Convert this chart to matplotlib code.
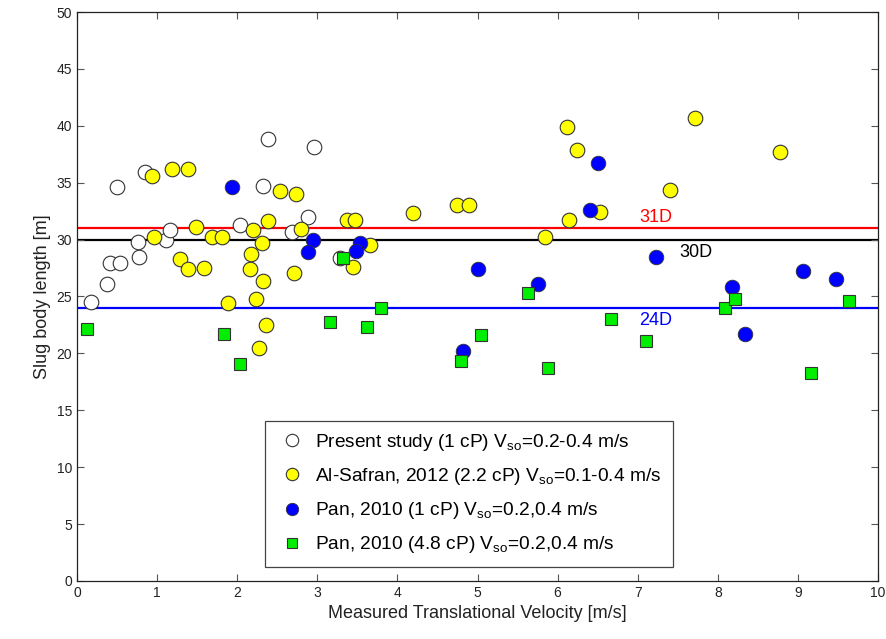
import matplotlib.pyplot as plt

plt.rcParams['font.family'] = ['Liberation Sans', 'DejaVu Sans']
plt.rcParams['mathtext.fontset'] = 'custom'
plt.rcParams['mathtext.rm'] = 'Liberation Sans'

# -------------------------------
# Datos
# -------------------------------
present_x = [0.17, 0.38, 0.41, 0.54, 0.50, 0.77, 0.76, 0.85, 1.11, 1.16,
             2.39, 2.32, 2.04, 2.89, 2.96, 2.69, 3.28]
present_y = [24.5, 26.1, 27.9, 27.9, 34.6, 28.5, 29.8, 35.9, 30.0, 30.8,
             38.8, 34.7, 31.3, 32.0, 38.1, 30.7, 28.4]

safran_x = [0.94, 1.19, 1.39, 1.49, 0.96, 1.69, 1.81, 1.29, 1.39, 1.58,
            1.89, 2.20, 2.39, 2.31, 2.17, 2.16, 2.32, 2.24, 2.36, 2.27,
            2.53, 2.73, 2.80, 2.71, 3.37, 3.47, 3.66, 3.45, 4.20, 4.74,
            4.90, 5.84, 6.14, 6.12, 6.24, 6.53, 7.40, 7.71, 8.78]
safran_y = [35.6, 36.2, 36.2, 31.1, 30.2, 30.2, 30.2, 28.3, 27.4, 27.5,
            24.4, 30.8, 31.6, 29.7, 28.7, 27.4, 26.4, 24.8, 22.5, 20.5,
            34.3, 34.0, 30.9, 27.1, 31.7, 31.7, 29.5, 27.6, 32.3, 33.0,
            33.0, 30.2, 31.7, 39.9, 37.9, 32.4, 34.4, 40.7, 37.7]

pan1_x = [1.94, 2.95, 2.88, 3.53, 3.48, 5.00, 5.76, 4.82, 6.51, 6.40,
          7.23, 8.18, 8.34, 9.06, 9.48]
pan1_y = [34.6, 30.0, 28.9, 29.7, 29.0, 27.4, 26.1, 20.2, 36.7, 32.6,
          28.5, 25.8, 21.7, 27.2, 26.5]

pan48_x = [0.12, 3.16, 1.83, 2.04, 3.32, 3.62, 3.80, 5.63, 5.04, 4.79,
           5.88, 6.67, 7.10, 8.09, 8.22, 9.16, 9.64]
pan48_y = [22.1, 22.8, 21.7, 19.1, 28.4, 22.3, 24.0, 25.3, 21.6, 19.3,
           18.7, 23.0, 21.1, 24.0, 24.8, 18.3, 24.6]

ref_lines = [31, 30, 24]
ref_colors = ['red', 'black', 'blue']

# -------------------------------
# Figura
# -------------------------------
fig = plt.figure(figsize=(8.86, 6.39), dpi=100)
ax = fig.add_axes([0.0869, 0.0908, 0.9041, 0.8904])

for yv, c in zip(ref_lines, ref_colors):
    ax.axhline(yv, color=c, lw=1.6, zorder=1)

sub = r'V$_{\rm so}$'
ax.plot(present_x, present_y, 'o', ms=10.5, mfc='white', mec='#333333',
        mew=0.8, label='Present study (1 cP) ' + sub + '=0.2-0.4 m/s')
ax.plot(safran_x, safran_y, 'o', ms=10.5, mfc='yellow', mec='#333333',
        mew=0.8, label='Al-Safran, 2012 (2.2 cP) ' + sub + '=0.1-0.4 m/s')
ax.plot(pan1_x, pan1_y, 'o', ms=10.5, mfc='blue', mec='#333333',
        mew=0.6, label='Pan, 2010 (1 cP) ' + sub + '=0.2,0.4 m/s')
ax.plot(pan48_x, pan48_y, 's', ms=8, mfc='#00ee00', mec='#333333',
        mew=0.8, label='Pan, 2010 (4.8 cP) ' + sub + '=0.2,0.4 m/s')

# etiquetas de las líneas
ax.text(7.02, 31.9, '31D', color='red', fontsize=13, va='center')
ax.text(7.52, 28.9, '30D', color='black', fontsize=13, va='center')
ax.text(7.02, 22.9, '24D', color='blue', fontsize=13, va='center')

ax.set_xlim(0, 10)
ax.set_ylim(0, 50)
ax.set_xticks(range(0, 11))
ax.set_yticks(range(0, 51, 5))
ax.tick_params(direction='in', top=True, right=True, length=5,
               color='#555555', labelsize=10, labelcolor='#222222')
for sp in ax.spines.values():
    sp.set_color('#222222')
    sp.set_linewidth(0.9)

ax.set_xlabel('Measured Translational Velocity [m/s]', fontsize=13,
              color='#222222')
ax.set_ylabel('Slug body length [m]', fontsize=13, color='#222222')

leg = ax.legend(loc='lower left', bbox_to_anchor=(0.235, 0.025),
                borderaxespad=0, fontsize=13.8, fancybox=False,
                framealpha=1, edgecolor='#444444', handletextpad=0.4,
                labelspacing=0.68, borderpad=0.6, handlelength=1.6,
                markerscale=0.85)
leg.get_frame().set_linewidth(0.9)

fig.savefig('out.png', dpi=100)
